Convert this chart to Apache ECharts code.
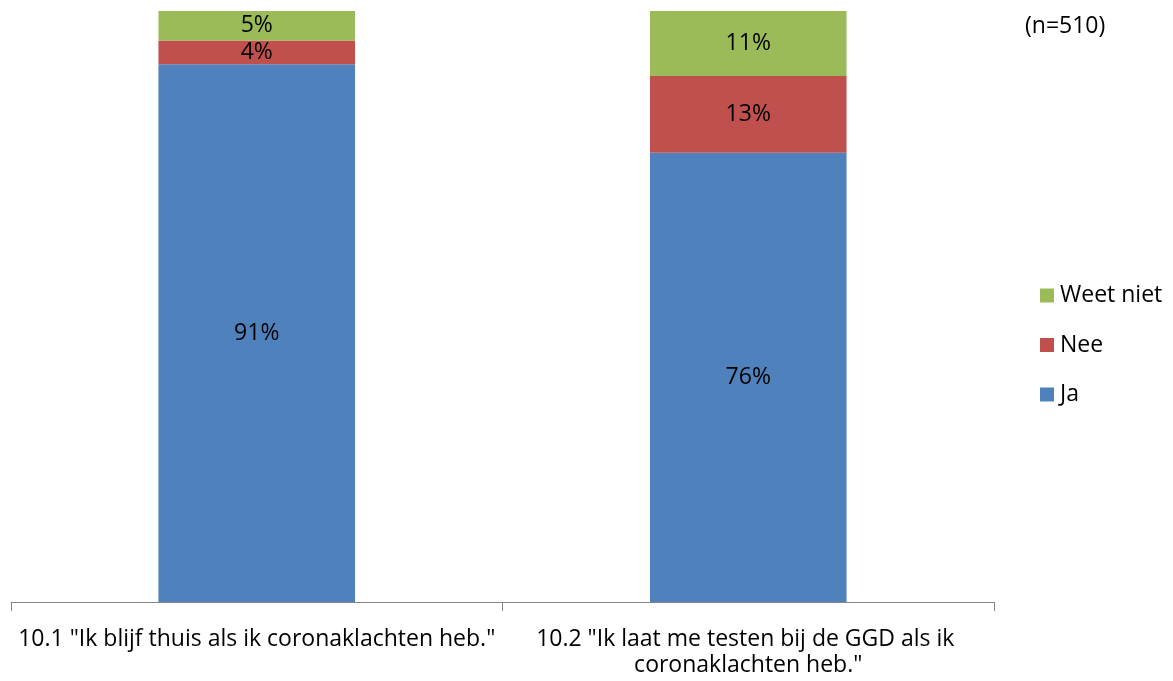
<!DOCTYPE html>
<html><head><meta charset="utf-8">
<script src="https://cdn.jsdelivr.net/npm/echarts@6/dist/echarts.min.js"></script>
<style>html,body{margin:0;padding:0;background:#fff}#c{width:1173px;height:681px}</style>
</head><body><div id="c"></div>
<script>
const categories = ['10.1 "Ik blijf thuis als ik coronaklachten heb."', '10.2 "Ik laat me testen bij de GGD als ik coronaklachten heb."'];
const ja = [91, 76];
const nee = [4, 13];
const weetNiet = [5, 11];
const seriesNames = ['Ja', 'Nee', 'Weet niet'];
const note = '(n=510)';

const FONT = '"Open Sans", "Noto Sans", sans-serif';
const FS = 23;
const chart = echarts.init(document.getElementById('c'));
const lbl = {show: true, position: 'inside', color: '#000', fontSize: FS, fontFamily: FONT, formatter: p => p.value + '%'};
function s(name, data, color) {
  return {name, type: 'bar', stack: 't', data, barWidth: '40%', itemStyle: {color}, label: lbl};
}
chart.setOption({
  animation: false,
  textStyle: {fontFamily: FONT},
  title: {text: note, left: 1020, top: 10, textStyle: {fontSize: FS, fontWeight: 'normal', color: '#000', fontFamily: FONT}},
  legend: {orient: 'vertical', left: 1035, top: 279, itemWidth: 14, itemHeight: 14, itemGap: 26.5,
    icon: 'rect', data: ['Weet niet', 'Nee', 'Ja'],
    textStyle: {fontSize: FS, lineHeight: 22, color: '#000', fontFamily: FONT, padding: [0, 0, 0, 1]}},
  grid: {left: 11, right: 179, top: 11, bottom: 79},
  xAxis: {type: 'category', data: categories,
    axisLine: {lineStyle: {color: '#868686', width: 1}},
    axisTick: {show: true, length: 9, lineStyle: {color: '#868686'}},
    axisLabel: {color: '#000', fontSize: FS, fontFamily: FONT, margin: 24, lineHeight: 26, width: 488, overflow: 'break', interval: 0}},
  yAxis: {type: 'value', min: 0, max: 100, show: false, splitLine: {show: false}},
  series: [s(seriesNames[0], ja, '#4F81BD'), s(seriesNames[1], nee, '#C0504D'), s(seriesNames[2], weetNiet, '#9BBB59')]
});
</script></body></html>
